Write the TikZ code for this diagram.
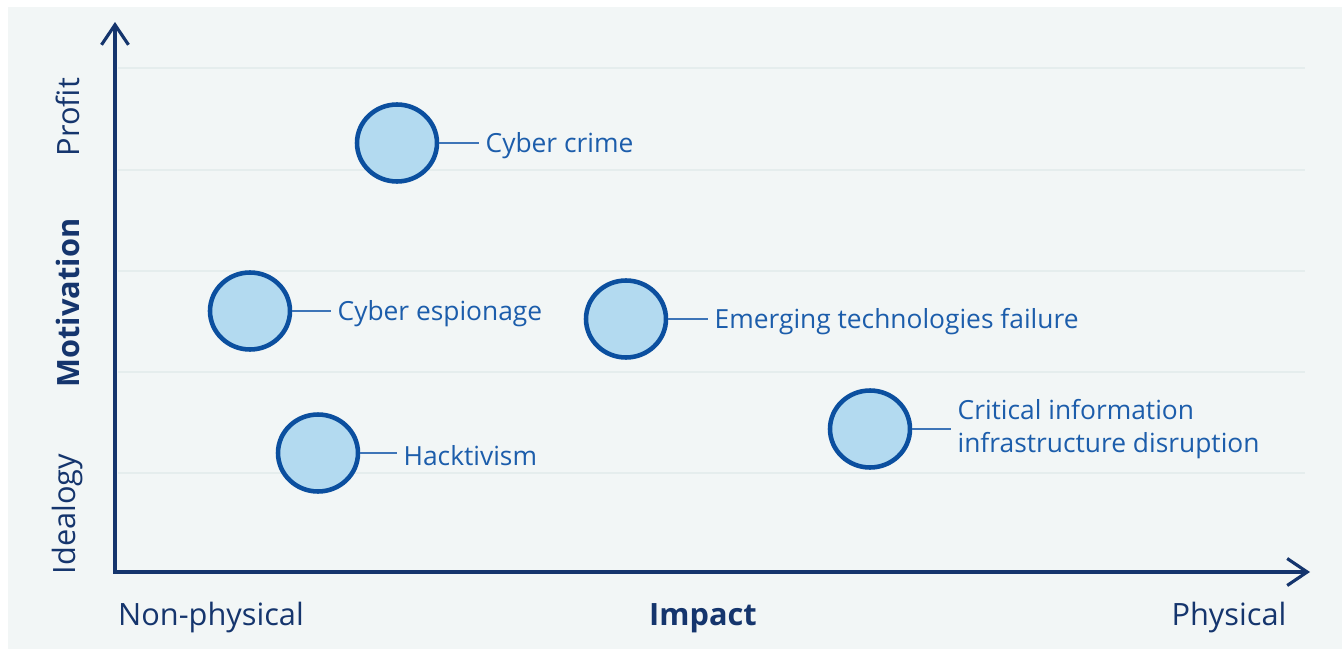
\documentclass[tikz,border=0pt]{standalone}
\usepackage{fontspec}
\setmainfont{Open Sans}
\usetikzlibrary{positioning,arrows.meta,shapes.geometric}
\definecolor{PanelGrey}{HTML}{F2F6F6}
\definecolor{GridGrey}{HTML}{E5EDED}
\definecolor{AxisNavy}{HTML}{15356D}
\definecolor{RingBlue}{HTML}{0B4F9F}
\definecolor{BubbleBlue}{HTML}{B3DAF0}
\definecolor{TextBlue}{HTML}{1C5DAB}

\begin{document}
\begin{tikzpicture}[x=0.02cm, y=-0.02cm]
  \tikzset{
    b/.style={ellipse, draw=RingBlue, line width=2.6pt, fill=BubbleBlue,
      minimum width=1.6cm, minimum height=1.54cm, inner sep=0pt},
    t/.style={font=\fontsize{15}{18.5}\selectfont, text=TextBlue,
      inner sep=0.12cm, align=left},
    t1/.style={t, yshift=-0.06cm},
    l/.style={draw=TextBlue!85, line width=0.9pt},
    a/.style={draw=AxisNavy, line width=1.8pt,
      {Straight Barb[length=0.4cm,width=0.54cm]}-{Straight Barb[length=0.4cm,width=0.54cm]}},
    g/.style={draw=GridGrey, line width=1.5pt},
    ax/.style={font=\fontsize{17.5}{20}\selectfont, text=AxisNavy, inner sep=0pt}
  }
  % panel and grid
  \useasboundingbox (0,0) rectangle (1342,649);
  \fill[PanelGrey] (8,7) rectangle (1342,649);
  \foreach \gy in {68,170,271,372,473}
    \draw[g] (118,\gy) -- (1305,\gy);

  % axes
  \coordinate (ytop) at (115,22);
  \coordinate (o) at (115,572);
  \coordinate (xend) at (1310,572);
  \draw[a] (ytop) -- (o) -- (xend);

  \node[ax, rotate=90] (profit) at (68,117) {Profit};
  \node[ax, rotate=90, font=\fontsize{17.5}{20}\selectfont\bfseries] (motiv) at (68,303) {Motivation};
  \node[ax, rotate=90] (ideal) at (68,514) {Idealogy};
  \node[ax] (nonphys) at (211,618) {Non-physical};
  \node[ax, font=\fontsize{17.5}{20}\selectfont\bfseries] (impact) at (703,618) {Impact};
  \node[ax] (phys) at (1229,618) {Physical};

  % threats
  \node[b] (crime) at (397,143) {};
  \node[b] (espio) at (250,311) {};
  \node[b] (emerg) at (626,319) {};
  \node[b] (hack) at (318,453) {};
  \node[b] (crit) at (870,429) {};

  \node[t1, right=0.8cm of crime] (crime-t) {Cyber crime};
  \node[t1, right=0.78cm of espio] (espio-t) {Cyber espionage};
  \node[t1, right=0.8cm of emerg] (emerg-t) {Emerging technologies failure};
  \node[t1, right=0.74cm of hack] (hack-t) {Hacktivism};
  \node[t, right=0.78cm of crit] (crit-t) {Critical information\\infrastructure disruption};

  % leader lines
  \draw[l] (crime) -- (crime -| crime-t.west);
  \draw[l] (espio) -- (espio -| espio-t.west);
  \draw[l] (emerg) -- (emerg -| emerg-t.west);
  \draw[l] (hack) -- (hack -| hack-t.west);
  \draw[l] (crit) -- (crit -| crit-t.west);
\end{tikzpicture}
\end{document}
